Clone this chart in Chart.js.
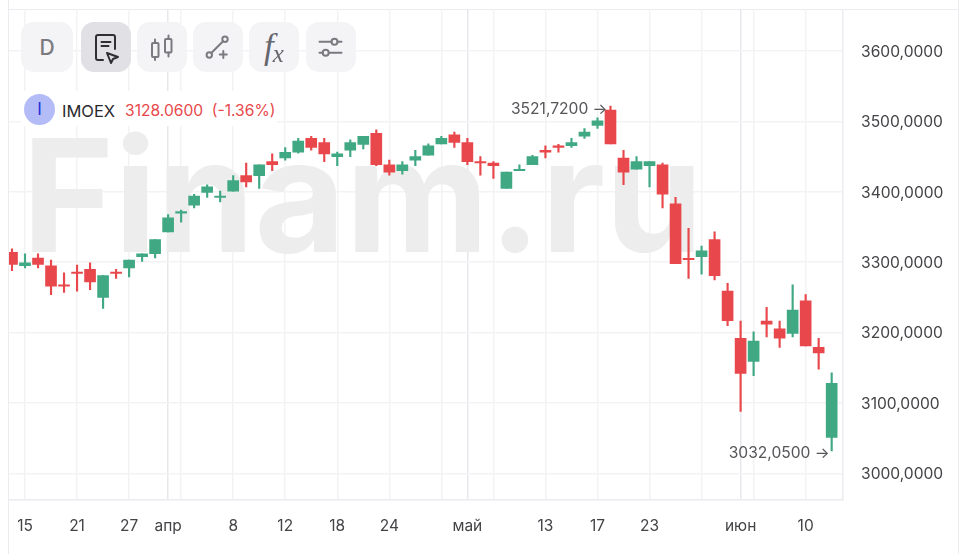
<!DOCTYPE html>
<html>
<head>
<meta charset="utf-8">
<title>IMOEX</title>
<script src="https://cdn.jsdelivr.net/npm/chart.js@4"></script>
<style>
  html, body { margin: 0; padding: 0; background: #fff; }
  body { width: 966px; height: 554px; position: relative; overflow: hidden; font-family: Inter, sans-serif; }
  #priceChart { position: absolute; left: 0; top: 0; }
  #sides { position: absolute; left: 8px; top: -5px; width: 949px; height: 570px; border-left: 1px solid #ececf0; border-right: 1px solid #ececf0; }
  #topLine { position: absolute; left: 8px; top: 9px; width: 950px; height: 1px; background: #ececf0; }
  .btn { position: absolute; top: 22px; height: 50px; background: #f4f4f6; border-radius: 13px; }
  .btn.active { background: #e0e0e5; }
  .btn svg { position: absolute; left: 0; top: 0; }
  #dBtn { font-size: 21px; font-weight: 500; color: #7a7a80; text-align: center; line-height: 52px; }
  #fxBtn { font-family: "Liberation Serif", serif; font-style: italic; color: #66666e; text-align: center; line-height: 50px; font-size: 35px; }
  #fxBtn span { font-size: 25px; margin-left: -1px; position: relative; top: 4px; }
  #head { position: absolute; left: 21px; top: 91px; width: 256px; height: 35px; background: #fff; }
  #coin { position: absolute; left: 3px; top: 3px; width: 31px; height: 31px; border-radius: 50%; background: #b4bcf8; color: #2430d8; font-size: 17px; line-height: 31px; text-align: center; }
  #ticker { position: absolute; left: 41px; top: 11px; font-size: 16.5px; line-height: 18px; color: #2a2a2e; }
  #quote { position: absolute; left: 104px; top: 11px; font-size: 15.6px; line-height: 18px; color: #e8484b; white-space: pre; }
</style>
</head>
<body>
<div id="sides"></div>
<div id="topLine"></div>
<canvas id="priceChart" width="966" height="554"></canvas>

<div class="btn" id="dBtn" style="left:21px;width:52px">D</div>
<div class="btn active" style="left:81px;width:50px">
  <svg width="50" height="50" fill="none" stroke="#2e2e34" stroke-width="2" stroke-linecap="round" stroke-linejoin="round">
    <path d="M22 38h-5a2 2 0 0 1-2-2V15a2 2 0 0 1 2-2h15a2 2 0 0 1 2 2v12"/>
    <path d="M20.500 20h9M20.500 24h7"/>
    <path d="M26 31l11 4-5 2-2 4z"/>
  </svg>
</div>
<div class="btn" style="left:137px;width:50px">
  <svg width="50" height="50" fill="none" stroke="#7a7a80" stroke-width="2" stroke-linecap="round">
    <rect x="15" y="21" width="6.500" height="14" rx="1"/><path d="M18 17.500v3.500M18 35v3"/>
    <rect x="28" y="17" width="6.500" height="13.500" rx="1"/><path d="M31.500 13.500v3.500M31.500 30.500v4"/>
  </svg>
</div>
<div class="btn" style="left:193px;width:50px">
  <svg width="50" height="50" fill="none" stroke="#7a7a80" stroke-width="2" stroke-linecap="round">
    <circle cx="16.300" cy="33" r="2.700"/><circle cx="32" cy="17.300" r="2.700"/><path d="M18.300 31l11.800-11.800M30.300 29v7M26.800 32.500h7"/>
  </svg>
</div>
<div class="btn" id="fxBtn" style="left:249px;width:50px">f<span>x</span></div>
<div class="btn" style="left:306px;width:50px">
  <svg width="50" height="50" fill="none" stroke="#7a7a80" stroke-width="2" stroke-linecap="round">
    <path d="M13.500 19.700h12M31.500 19.700h4M13.500 30.700h3M23 30.700h12.500"/><circle cx="28.500" cy="19.700" r="3"/><circle cx="19.700" cy="30.700" r="3"/>
  </svg>
</div>

<div id="head">
  <div id="coin">I</div>
  <div id="ticker">IMOEX</div>
  <div id="quote">3128.0600  (-1.36%)</div>
</div>

<script>
// daily candles
var opens = [3314, 3295, 3306, 3295, 3268, 3286, 3290, 3250, 3286, 3292, 3308, 3312, 3343, 3369.5, 3381, 3399,
    3392, 3401, 3423, 3423, 3443, 3448, 3456.5, 3476, 3470, 3450, 3459, 3467.5, 3483, 3438.5, 3430, 3445,
    3452, 3468, 3481, 3470, 3443, 3441, 3405, 3430, 3438.5, 3459, 3465.5, 3465.5, 3479, 3494.5, 3516, 3448,
    3432, 3437, 3438.5, 3383, 3305.6, 3308, 3332, 3259, 3192, 3159, 3216.5, 3205.5, 3199, 3245, 3179, 3051];
var highs = [3319, 3312, 3312, 3303, 3285, 3296, 3299, 3281, 3290, 3303, 3312, 3332, 3367.5, 3374, 3396.5, 3410,
    3401, 3423, 3441, 3438.5, 3454, 3463, 3476, 3479, 3476, 3456.5, 3474, 3479, 3488, 3445, 3443, 3459,
    3468, 3479, 3485, 3476, 3450, 3443, 3428, 3438.5, 3452, 3465.5, 3467.5, 3476, 3490, 3505, 3521.72, 3459,
    3450, 3443, 3441, 3392, 3348, 3323, 3343, 3270, 3216.5, 3201, 3236, 3216.5, 3268, 3254, 3192, 3143];
var lows = [3288, 3292, 3292, 3254, 3257, 3259, 3261, 3234.5, 3277, 3279, 3301, 3306, 3343, 3357, 3377, 3392,
    3385.5, 3401, 3407, 3405, 3430, 3445, 3455, 3459, 3443, 3437, 3450, 3461, 3437, 3423.5, 3425, 3437,
    3452, 3468, 3463, 3438.5, 3423.5, 3419, 3405, 3430, 3438.5, 3448, 3456.5, 3463, 3476, 3490, 3468, 3410,
    3432, 3407, 3377, 3298, 3277, 3283, 3275, 3210, 3088, 3139, 3194, 3179, 3194, 3181, 3148, 3032.05];
var closes = [3297, 3299, 3297, 3266, 3266, 3284, 3272, 3281, 3284, 3303, 3312, 3332, 3363, 3372, 3394, 3407,
    3394, 3416, 3414, 3438.5, 3438.5, 3456, 3472, 3463, 3454, 3454, 3470, 3479, 3438.5, 3428, 3438.5, 3450,
    3465.5, 3476, 3470, 3443, 3441, 3437, 3428, 3432, 3450, 3456.5, 3463, 3470, 3485, 3501, 3468, 3428,
    3443, 3443, 3396.5, 3298, 3303.6, 3316, 3281, 3217, 3142, 3188, 3212, 3192, 3232, 3181, 3171, 3128.06];

// bar index of each grid line, with its label
var tickBars = [1, 5, 9, 12, 13, 17, 21, 25, 29, 33, 35, 37, 41, 45, 49, 53, 56, 57, 61];
var tickNames = ['15', '21', '27', 'апр', '', '8', '12', '18', '24', '', 'май', '', '13', '17', '23', '', 'июн', '', '10'];
var monthBars = [12, 35, 56];
var priceTicks = [3000, 3100, 3200, 3300, 3400, 3500, 3600];

var RED = '#e8484b';
var GREEN = '#41a884';

function candleColor(ctx) {
    var i = ctx.dataIndex;
    return closes[i] < opens[i] ? RED : GREEN;
}

// big grey Finam.ru over the grid, under the candles
var watermark = {
    id: 'watermark',
    beforeDatasetsDraw: function (chart) {
        var c = chart.ctx;
        c.save();
        c.font = '700 157px Inter';
        c.fillStyle = '#ededed';
        c.textBaseline = 'alphabetic';
        c.fillText('Finam.ru', 22, 252);
        c.restore();
    }
};

// price notes next to the highest and lowest candle
var extremes = {
    id: 'extremes',
    afterDatasetsDraw: function (chart) {
        var c = chart.ctx, xs = chart.scales.x, ys = chart.scales.y;
        var maxAt = highs.indexOf(Math.max.apply(null, highs));
        var minAt = lows.indexOf(Math.min.apply(null, lows));
        c.save();
        c.font = '15.6px Inter';
        c.fillStyle = '#55555a';
        c.textAlign = 'right';
        c.textBaseline = 'middle';
        [[maxAt, highs[maxAt], 3, 3], [minAt, lows[minAt], 2, 2]].forEach(function (n) {
            var text = n[1].toFixed(4).replace('.', ',') + ' →';
            c.fillText(text, xs.getPixelForValue(n[0]) - n[2], ys.getPixelForValue(n[1]) + n[3]);
        });
        c.restore();
    }
};

function noScalePadding(axis) {
    axis.paddingTop = 0;
    axis.paddingBottom = 0;
    axis.paddingLeft = 0;
    axis.paddingRight = 0;
}

var ctx = document.getElementById('priceChart').getContext('2d');
var priceChart = new Chart(ctx, {
    type: 'bar',
    data: {
        datasets: [{
            label: 'body',
            order: 1,
            data: opens.map(function (o, i) { return { x: i, y: [o, closes[i]] }; }),
            backgroundColor: candleColor,
            barThickness: 11
        }, {
            label: 'wick',
            order: 2,
            data: lows.map(function (l, i) { return { x: i, y: [l, highs[i]] }; }),
            backgroundColor: candleColor,
            barThickness: 1.5
        }]
    },
    options: {
        responsive: false,
        animation: false,
        events: [],
        layout: { padding: { left: 9, top: 9.5, right: 0, bottom: 0 } },
        plugins: { legend: { display: false }, tooltip: { enabled: false } },
        datasets: { bar: { grouped: false } },
        scales: {
            x: {
                type: 'linear',
                offset: false,
                min: -0.23,
                max: 63.87,
                afterBuildTicks: function (axis) {
                    axis.ticks = tickBars.map(function (v) { return { value: v }; });
                },
                afterFit: function (axis) {
                    axis.height = 54.7;
                    noScalePadding(axis);
                },
                grid: {
                    offset: false,
                    drawTicks: false,
                    lineWidth: 1.5,
                    color: function (c) {
                        if (!c.tick) return '#f3f3f5';
                        return monthBars.indexOf(c.tick.value) >= 0 ? '#e8e8ec' : '#f3f3f5';
                    }
                },
                border: { color: '#ececf0', width: 1.5 },
                ticks: {
                    autoSkip: false,
                    maxRotation: 0,
                    padding: 18,
                    color: '#444448',
                    font: { family: 'Inter', size: 15.5 },
                    callback: function (v) {
                        return tickNames[tickBars.indexOf(v)];
                    }
                }
            },
            y: {
                position: 'right',
                min: 2963.2,
                max: 3659,
                afterBuildTicks: function (axis) {
                    axis.ticks = priceTicks.map(function (v) { return { value: v }; });
                },
                afterFit: function (axis) {
                    axis.width = 123;
                    noScalePadding(axis);
                },
                grid: { drawTicks: false, lineWidth: 1.5, color: '#f3f3f5' },
                border: { color: '#ececf0', width: 1.5 },
                ticks: {
                    padding: 18,
                    labelOffset: 1,
                    color: '#444448',
                    font: { family: 'Inter', size: 15.6 },
                    callback: function (v) {
                        return v.toFixed(4).replace('.', ',');
                    }
                }
            }
        }
    },
    plugins: [watermark, extremes]
});
</script>
</body>
</html>
